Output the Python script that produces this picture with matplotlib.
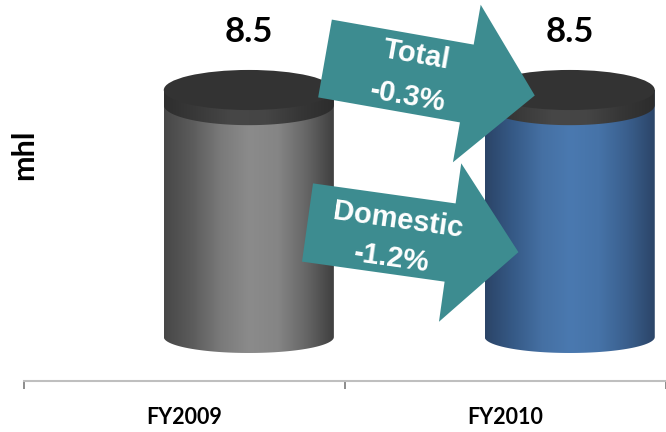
import numpy as np
import matplotlib.pyplot as plt
from matplotlib.patches import Polygon, Ellipse
from matplotlib.colors import LinearSegmentedColormap

# volumes in mhl
years = ['FY2009', 'FY2010']
volumes = [8.5, 8.5]

# change arrows between the two years
change_names = ['Total', 'Domestic']
change_pcts = ['-0.3%', '-1.2%']

W, H = 666, 432
fig = plt.figure(figsize=(W / 100, H / 100), dpi=100)
ax = fig.add_axes([0, 0, 1, 1])

body_cols = [
    ['#474747', '#5c5c5c', '#7a7a7a', '#8b8b8b', '#858585', '#666666', '#3e3e3e'],
    ['#2b4467', '#365a87', '#4570a3', '#4a79b0', '#4673a8', '#3a5f8d', '#2b4467'],
]
rim_cols = ['#2e2e2e', '#3a3a3a', '#474747', '#454545', '#363636', '#2c2c2c']
top_col = '#333333'
teal = '#3d8c90'

shift = 0.2      # depth offset of the cylinders from the category centre
hw = 0.265       # cylinder half width
cap_h = 0.69     # half height of the top ellipse
base_h = 0.55    # half height of the bottom ellipse
rim = 0.52       # thickness of the dark lid band
floor = -1.514


def half_ellipse(cx, cy, a, b, n=90):
    t = np.linspace(np.pi, 2 * np.pi, n)
    return np.column_stack([cx + a * np.cos(t), cy + b * np.sin(t)])


def gradient_fill(verts, x0, x1, y0, y1, colors, z):
    cmap = LinearSegmentedColormap.from_list('g', colors)
    poly = Polygon(verts, closed=True, fc='none', ec='none')
    ax.add_patch(poly)
    im = ax.imshow(np.linspace(0, 1, 256)[None, :], cmap=cmap, extent=[x0, x1, y0, y1],
                   aspect='auto', interpolation='bilinear', zorder=z)
    im.set_clip_path(poly)


for i, v in enumerate(volumes):
    cx = i + shift
    x0, x1 = cx - hw, cx + hw
    body = np.vstack([[x0, v], half_ellipse(cx, 0, hw, base_h), [x1, v]])
    gradient_fill(body, x0, x1, -base_h - 0.1, v + 0.1, body_cols[i], 2)
    lid = np.vstack([[x0, v], half_ellipse(cx, v - rim, hw, cap_h), [x1, v]])
    gradient_fill(lid, x0, x1, v - rim - cap_h - 0.1, v + 0.1, rim_cols, 3)
    ax.add_patch(Ellipse((cx, v), 2 * hw, 2 * cap_h, fc=top_col, ec='none', zorder=4))
    ax.annotate(f'{v}', (cx, v), xytext=(0, 42), textcoords='offset points',
                ha='center', va='center', fontsize=25, fontweight='bold', family='Lato')


def arrow(tail, ang, length=213, half=39.5, head_at=144, head_half=80):
    a = np.radians(ang)
    u = np.array([np.cos(a), np.sin(a)])
    n = np.array([-np.sin(a), np.cos(a)])
    pts = [(0, -half), (head_at, -half), (head_at, -head_half), (length, 0),
           (head_at, head_half), (head_at, half), (0, half)]
    xy = [np.array(tail) + s * u + t * n for s, t in pts]
    xy = [(p[0] / W, 1 - p[1] / H) for p in xy]
    ax.add_patch(Polygon(xy, closed=True, fc=teal, ec='none', transform=fig.transFigure,
                         clip_on=False, zorder=10))


def label(x, y, s, ang):
    ax.text(x / W, 1 - y / H, s, transform=fig.transFigure, rotation=-ang,
            rotation_mode='anchor', ha='center', va='center', color='white',
            fontsize=21, fontweight='bold', family='Liberation Sans', zorder=11)


arrow((325, 58.5), 10)
label(416, 55, change_names[0], 10)
label(408, 97, change_pcts[0], 10)

arrow((307.5, 222.5), 8)
label(398, 220, change_names[1], 8)
label(392, 258, change_pcts[1], 8)

ax.set_xlim(-0.5754, 1.4738)
ax.set_ylim(-3.269, 11.597)

for s in ['top', 'right', 'left']:
    ax.spines[s].set_visible(False)
ax.spines['bottom'].set_position(('data', floor))
ax.spines['bottom'].set_bounds(-0.5, 1.5)
ax.spines['bottom'].set_color('#bfbfbf')
ax.spines['bottom'].set_linewidth(1.5)

ax.set_yticks([])
ax.set_xticks([-0.5, 0.5, 1.5])
ax.set_xticklabels([])
ax.tick_params(axis='x', which='major', direction='out', length=6, width=1.4, color='#8c8c8c')
ax.set_xticks([0, 1], minor=True)
ax.set_xticklabels(years, minor=True, fontsize=15.5, fontweight='bold', family='Lato')
ax.tick_params(axis='x', which='minor', length=0, pad=19)

ax.text(24 / W, 1 - 155 / H, 'mhl', transform=fig.transFigure, rotation=90,
        ha='center', va='center', fontsize=22, fontweight='bold', family='Lato')

fig.savefig('out.png', dpi=100)
